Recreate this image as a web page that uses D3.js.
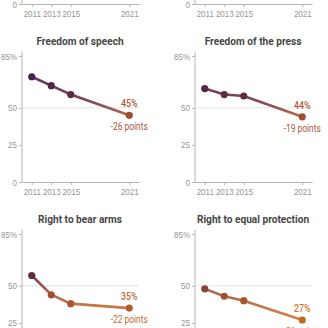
<!DOCTYPE html>
<html>
<head>
<meta charset="utf-8">
<script src="https://cdn.jsdelivr.net/npm/d3@7"></script>
<style>
  body { margin: 0; background: #fff; }
  svg { display: block; font-family: Roboto, "Noto Sans", sans-serif; }
  .axis text { fill: #959595; font-size: 9.5px; }
  .axis line, .axis path { stroke: #b5b5b5; }
  .title { fill: #474747; font-size: 11.5px; font-weight: bold; }
</style>
</head>
<body>
<div id="chart"></div>
<script>
// survey years and share saying each right is "essential" (%)
let years = [2011, 2013, 2015, 2021];
let topics = ["Freedom of speech", "Freedom of the press", "Right to bear arms", "Right to equal protection"];
let speech = [71, 65, 59, 45];
let press = [63, 59, 58, 44];
let arms = [57, 44, 38, 35];
let equal = [48, 43, 40, 27];
let changes = [-26, -19, -22, -21];
let yTicks = [0, 25, 50, 85];

let series = [speech, press, arms, equal];

let width = 328, height = 328;
let colW = 173, rowH = 178;
let narrow = "scale(0.84,1)";

let svg = d3.select("#chart").append("svg")
    .attr("width", width)
    .attr("height", height);

let x = d3.scaleLinear().domain([2010, 2022]).range([22, 139]);
let y = d3.scaleLinear().domain([0, 85]).range([182, 56]);

// colour follows the value: high = purple, low = orange
let color = d3.scaleLinear()
    .domain([25, 45, 55, 70])
    .range(["#d57a2b", "#ad573a", "#703345", "#4b2750"])
    .clamp(true);

let grad = svg.append("defs").append("linearGradient")
    .attr("id", "lineGrad")
    .attr("gradientUnits", "userSpaceOnUse")
    .attr("x1", 0).attr("x2", 0)
    .attr("y1", y(70)).attr("y2", y(25));
[70, 60, 55, 50, 45, 35, 25].forEach(function (v) {
    grad.append("stop")
        .attr("offset", (v - 70) / (25 - 70))
        .attr("stop-color", color(v));
});

function drawAxes(g) {
    g.append("line")
        .attr("x1", x(2010)).attr("x2", x(2022))
        .attr("y1", y(50)).attr("y2", y(50))
        .attr("stroke", "#e3e3e3");

    let ya = g.append("g").attr("class", "axis")
        .attr("transform", "translate(" + x(2010) + ",0)")
        .call(d3.axisLeft(y).tickValues(yTicks).tickSize(3).tickSizeOuter(0)
            .tickFormat(function (d) { return d == 85 ? "85%" : d; }));
    ya.select(".domain").remove();
    ya.selectAll("text").attr("transform", narrow);
    g.append("line")
        .attr("x1", x(2010)).attr("x2", x(2010))
        .attr("y1", y(0)).attr("y2", y(88))
        .attr("stroke", "#b5b5b5");

    let xa = g.append("g").attr("class", "axis")
        .attr("transform", "translate(0," + y(0) + ")")
        .call(d3.axisBottom(x).tickValues(years).tickSize(3).tickSizeOuter(0)
            .tickFormat(d3.format("d")));
    xa.selectAll("text").attr("transform", narrow);
}

// row above is cut off: only its x axis shows
[0, 1].forEach(function (c) {
    let g = svg.append("g").attr("transform", "translate(" + c * colW + "," + (-rowH) + ")");
    drawAxes(g);
});

series.forEach(function (vals, i) {
    let col = i % 2, row = Math.floor(i / 2);
    let g = svg.append("g")
        .attr("transform", "translate(" + col * colW + "," + row * rowH + ")");

    g.append("g")
        .attr("transform", "translate(80,45)")
        .append("text")
        .attr("class", "title")
        .attr("text-anchor", "middle")
        .attr("transform", "scale(0.88,1)")
        .text(topics[i]);

    drawAxes(g);

    let pts = years.map(function (yr, j) { return [yr, vals[j]]; });

    let line = d3.line()
        .x(function (d) { return x(d[0]); })
        .y(function (d) { return y(d[1]); });

    g.append("path")
        .datum(pts)
        .attr("d", line)
        .attr("fill", "none")
        .attr("stroke", "url(#lineGrad)")
        .attr("stroke-width", 2.6)
        .attr("stroke-opacity", 0.9);

    g.selectAll(".dot")
        .data(pts)
        .enter().append("circle")
        .attr("class", "dot")
        .attr("cx", function (d) { return x(d[0]); })
        .attr("cy", function (d) { return y(d[1]); })
        .attr("r", 3.6)
        .attr("fill", function (d) { return d3.color(color(d[1])).darker(0.3); });

    let last = pts[pts.length - 1];
    let c = color(last[1]);
    g.append("g")
        .attr("transform", "translate(" + x(last[0]) + "," + (y(last[1]) - 8) + ")")
        .append("text")
        .attr("text-anchor", "middle")
        .attr("transform", narrow)
        .attr("fill", c)
        .attr("font-size", 10.5)
        .attr("font-weight", 500)
        .text(last[1] + "%");
    g.append("g")
        .attr("transform", "translate(" + x(last[0]) + "," + (y(last[1]) + 15) + ")")
        .append("text")
        .attr("text-anchor", "middle")
        .attr("transform", narrow)
        .attr("fill", c)
        .attr("font-size", 10)
        .text(changes[i] + " points");
});
</script>
</body>
</html>
